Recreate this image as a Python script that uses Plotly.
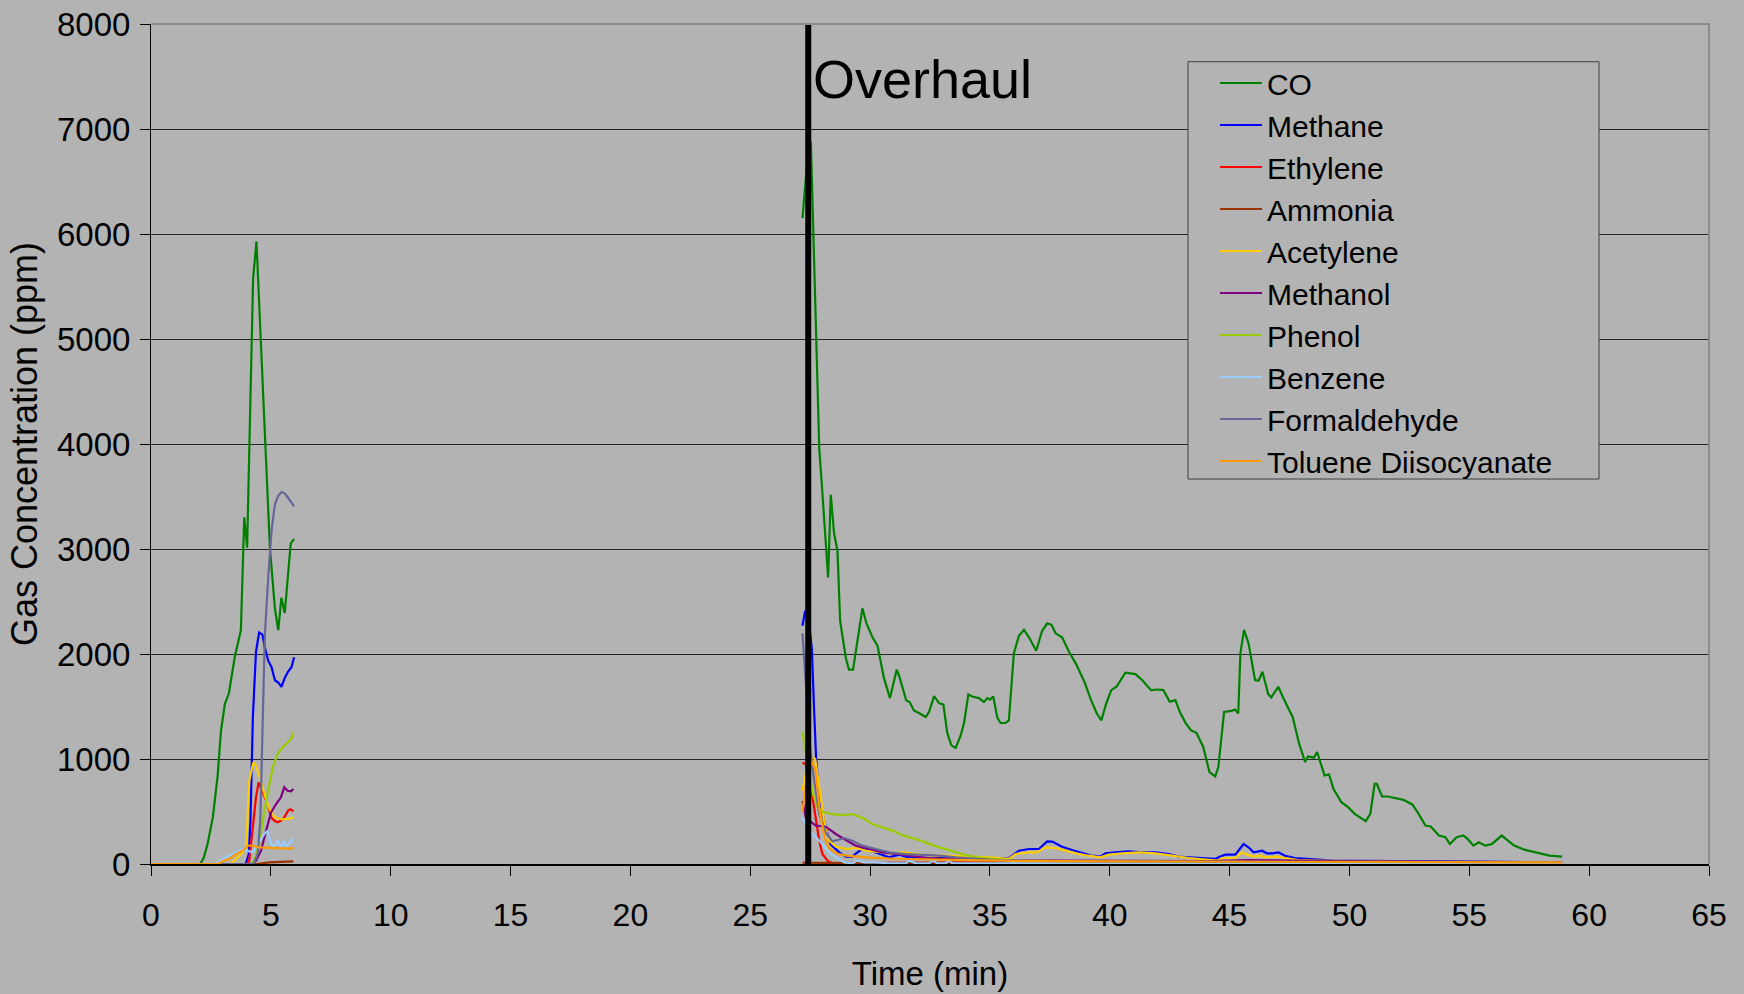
import plotly.graph_objects as go

# ---- Gas concentration readings (time in min, concentration in ppm) ----
# Each gas has an initial burn segment and a segment recorded after overhaul.

co_burn = [(0, 0), (2.05, 0), (2.2, 60), (2.36, 190), (2.58, 444), (2.78, 840), (2.92, 1269),
           (3.08, 1523), (3.25, 1626), (3.5, 1978), (3.75, 2226), (3.89, 3302), (4.01, 3012),
           (4.26, 5577), (4.4, 5929), (4.57, 5039), (4.79, 4005), (4.96, 3012), (5.17, 2433),
           (5.31, 2226), (5.44, 2536), (5.58, 2391), (5.83, 3053), (5.97, 3095)]
co_overhaul = [(27.18, 6151), (27.33, 6600), (27.45, 6880), (27.53, 6872), (27.6, 6326), (27.74, 4998),
               (27.88, 3953), (27.97, 3669), (28.11, 3147), (28.25, 2729), (28.36, 3517), (28.5, 3147),
               (28.64, 2981), (28.75, 2316), (28.99, 1960), (29.12, 1851), (29.29, 1851), (29.68, 2435),
               (29.85, 2292), (30.1, 2159), (30.31, 2079), (30.58, 1770), (30.83, 1580), (31.11, 1851),
               (31.21, 1794), (31.51, 1557), (31.65, 1542), (31.83, 1462), (32.04, 1438), (32.32, 1400),
               (32.46, 1448), (32.67, 1599), (32.88, 1533), (33.06, 1519), (33.22, 1248), (33.39, 1130),
               (33.57, 1106), (33.78, 1224), (33.92, 1343), (34.1, 1614), (34.26, 1595), (34.54, 1580),
               (34.75, 1542), (34.89, 1580), (35.0, 1566), (35.14, 1595), (35.31, 1391), (35.45, 1343),
               (35.65, 1343), (35.79, 1367), (36.0, 2008), (36.21, 2174), (36.42, 2231), (36.63, 2159),
               (36.93, 2031), (37.18, 2221), (37.39, 2292), (37.57, 2278), (37.74, 2197), (38.01, 2159),
               (38.3, 2022), (38.58, 1911), (38.94, 1736), (39.22, 1561), (39.46, 1433), (39.65, 1369),
               (39.83, 1513), (40.06, 1656), (40.28, 1688), (40.65, 1822), (41.07, 1809), (41.35, 1752),
               (41.72, 1656), (42.0, 1662), (42.24, 1656), (42.5, 1545), (42.74, 1561), (42.92, 1449),
               (43.16, 1344), (43.38, 1274), (43.62, 1248), (43.9, 1115), (44.16, 876), (44.4, 834),
               (44.53, 924), (44.77, 1449), (45.08, 1459), (45.23, 1471), (45.36, 1433), (45.45, 2006),
               (45.6, 2229), (45.79, 2102), (46.06, 1752), (46.21, 1745), (46.37, 1831), (46.61, 1618),
               (46.74, 1586), (47.03, 1688), (47.25, 1576), (47.63, 1401), (47.9, 1146), (48.15, 971),
               (48.27, 1025), (48.52, 1013), (48.65, 1067), (48.96, 844), (49.15, 853), (49.33, 717),
               (49.66, 589), (49.94, 541), (50.22, 478), (50.49, 439), (50.68, 408), (50.87, 478),
               (51.05, 764), (51.14, 764), (51.36, 643), (51.6, 643), (51.88, 627), (52.25, 611),
               (52.62, 567), (52.84, 494), (53.17, 366), (53.39, 357), (53.73, 271), (54.0, 255),
               (54.19, 191), (54.47, 255), (54.75, 271), (54.93, 239), (55.17, 175), (55.39, 207),
               (55.67, 175), (55.95, 191), (56.35, 271), (56.59, 223), (56.87, 175), (57.33, 134),
               (57.79, 111), (58.35, 80), (58.87, 70)]

methane_burn = [(0, 0), (3.95, 0), (4.08, 95), (4.15, 412), (4.25, 1400), (4.38, 2020), (4.51, 2205),
                (4.65, 2185), (4.75, 2060), (4.89, 1936), (5.03, 1874), (5.17, 1750), (5.31, 1729),
                (5.44, 1688), (5.58, 1771), (5.72, 1833), (5.86, 1874), (5.97, 1969)]
methane_overhaul = [(27.18, 2269), (27.29, 2411), (27.45, 2300), (27.57, 2055), (27.67, 1438), (27.75, 1000),
                    (27.88, 635), (28.08, 412), (28.35, 190), (28.71, 111), (28.99, 70), (29.26, 70),
                    (29.47, 111), (29.68, 143), (30.1, 121), (30.38, 95), (30.79, 63), (31.21, 89),
                    (31.63, 63), (32.18, 48), (32.88, 57), (33.57, 54), (34.4, 48), (35.24, 51),
                    (35.79, 57), (36.21, 127), (36.63, 143), (37.04, 143), (37.39, 216), (37.6, 213),
                    (38.01, 165), (38.43, 133), (38.85, 102), (39.26, 79), (39.61, 70), (39.82, 102),
                    (40.24, 111), (40.79, 121), (41.35, 111), (41.9, 111), (42.46, 95), (42.88, 70),
                    (43.29, 63), (43.71, 57), (44.4, 48), (44.61, 71), (44.82, 89), (45.24, 89),
                    (45.45, 159), (45.58, 190), (45.79, 159), (46.0, 111), (46.21, 121), (46.35, 127),
                    (46.56, 102), (46.76, 102), (47.04, 111), (47.31, 79), (47.73, 57), (48.15, 48),
                    (48.7, 41), (49.26, 32), (50.4, 30), (52.25, 25), (54.1, 18), (55.95, 16), (58.87, 15)]

ethylene_burn = [(0, 0), (4.0, 0), (4.1, 32), (4.24, 317), (4.38, 635), (4.49, 777), (4.66, 682),
                 (4.86, 571), (5.01, 444), (5.15, 412), (5.28, 397), (5.42, 412), (5.56, 444),
                 (5.74, 514), (5.84, 520), (5.94, 501)]
ethylene_overhaul = [(27.18, 958), (27.3, 960), (27.45, 850), (27.6, 635), (27.74, 412), (27.88, 222),
                     (28.01, 95), (28.22, 32), (28.43, 8), (30.0, 10), (33.0, 12), (36.0, 15), (37.6, 30),
                     (38.5, 25), (40.0, 18), (45.0, 20), (46.0, 30), (48.0, 20), (52.0, 15), (58.87, 10)]

ammonia_burn = [(0, 0), (4.4, 0), (4.94, 15), (5.49, 22), (5.94, 25)]
ammonia_overhaul = [(27.18, 12), (28.0, 10), (30.0, 8), (33.0, 10), (36.0, 8), (40.0, 10), (45.0, 12),
                    (50.0, 10), (55.0, 8), (58.87, 8)]

acetylene_burn = [(0, 0), (3.3, 0), (3.48, 32), (3.76, 95), (3.97, 159), (4.1, 793), (4.27, 968),
                  (4.38, 936), (4.52, 841), (4.73, 666), (4.94, 523), (5.15, 444), (5.42, 428),
                  (5.7, 428), (5.94, 444)]
acetylene_overhaul = [(27.18, 698), (27.35, 900), (27.6, 1011), (27.71, 1000), (27.88, 730), (28.08, 412),
                      (28.29, 222), (28.57, 165), (28.99, 143), (29.4, 152), (29.82, 127), (30.38, 111),
                      (30.93, 102), (31.35, 111), (31.9, 95), (32.46, 82), (33.15, 79), (34.13, 70),
                      (34.96, 63), (35.79, 48), (36.07, 95), (36.63, 111), (36.97, 111), (37.32, 159),
                      (37.74, 152), (38.15, 127), (38.57, 102), (39.13, 79), (39.61, 63), (39.96, 89),
                      (40.51, 102), (41.21, 111), (41.9, 102), (42.6, 79), (43.29, 57), (44.13, 40),
                      (44.54, 32), (44.68, 57), (45.24, 57), (45.51, 111), (45.72, 89), (46.0, 70),
                      (46.28, 79), (46.49, 63), (46.97, 70), (47.31, 57), (47.87, 38), (48.7, 32),
                      (50.65, 25), (54.0, 15), (58.87, 10)]

methanol_burn = [(0, 0), (4.17, 0), (4.38, 32), (4.59, 127), (4.8, 317), (5.01, 492), (5.22, 571),
                 (5.42, 635), (5.56, 730), (5.7, 698), (5.84, 692), (5.94, 714)]
methanol_overhaul = [(27.18, 600), (27.32, 441), (27.46, 412), (27.74, 365), (28.15, 355), (28.57, 286),
                     (28.99, 228), (29.4, 175), (29.96, 143), (30.51, 111), (31.07, 95), (31.63, 79),
                     (32.46, 57), (33.29, 48), (34.4, 38), (35.65, 32), (37.74, 32), (40.51, 32),
                     (44.13, 28), (45.79, 38), (48.0, 30), (52.0, 22), (58.87, 18)]

phenol_burn = [(0, 0), (4.17, 0), (4.31, 32), (4.52, 190), (4.73, 508), (4.91, 730), (5.08, 920),
               (5.28, 1047), (5.49, 1111), (5.7, 1158), (5.84, 1190), (5.94, 1253)]
phenol_overhaul = [(27.18, 1260), (27.29, 1106), (27.45, 850), (27.6, 679), (27.81, 536), (28.01, 498),
                   (28.43, 475), (28.85, 465), (29.26, 475), (29.68, 441), (30.1, 380), (30.51, 346),
                   (30.93, 318), (31.35, 275), (31.76, 247), (32.18, 218), (32.6, 180), (33.01, 152),
                   (33.43, 123), (33.99, 85), (34.54, 62), (35.24, 52), (35.79, 38), (36.07, 5),
                   (40.0, 3), (50.0, 3), (58.87, 3)]

benzene_burn = [(0, 0), (2.7, 0), (2.78, 15), (3.13, 63), (3.55, 111), (3.83, 143), (4.03, 127),
                (4.24, 111), (4.45, 190), (4.73, 286), (4.86, 317), (5.01, 190), (5.15, 159),
                (5.28, 222), (5.42, 159), (5.56, 222), (5.63, 159), (5.84, 222), (5.94, 238)]
benzene_overhaul = [(27.18, 444), (27.46, 317), (27.74, 254), (28.01, 190), (28.29, 111), (28.57, 63),
                    (28.92, 16), (29.26, 6), (29.47, 32), (29.75, 16), (30.24, 16), (30.79, 6),
                    (31.49, 6), (31.63, 32), (31.9, 6), (32.46, 6), (32.62, 32), (32.81, 6),
                    (33.15, 6), (33.29, 32), (33.43, 6), (40.0, 8), (50.0, 8), (58.87, 8)]

formaldehyde_burn = [(0, 0), (4.25, 0), (4.31, 15), (4.45, 95), (4.56, 412), (4.66, 1400), (4.75, 2185),
                     (4.89, 2722), (5.03, 3178), (5.17, 3426), (5.31, 3508), (5.44, 3542), (5.58, 3529),
                     (5.72, 3488), (5.86, 3446), (5.97, 3405)]
formaldehyde_overhaul = [(27.18, 2197), (27.35, 1600), (27.5, 1100), (27.67, 793), (27.88, 476),
                         (28.15, 301), (28.43, 216), (28.64, 228), (28.92, 247), (29.26, 222),
                         (29.68, 175), (30.24, 143), (30.79, 111), (31.49, 95), (32.18, 89), (32.88, 79),
                         (33.57, 63), (34.4, 48), (35.24, 38), (36.35, 32), (39.13, 25), (45.0, 22),
                         (52.0, 20), (58.87, 18)]

tdi_burn = [(0, 0), (2.78, 0), (3.06, 32), (3.27, 47), (3.55, 95), (3.83, 127), (4.03, 175),
            (4.24, 175), (4.52, 159), (4.94, 152), (5.49, 149), (5.94, 149)]
tdi_overhaul = [(27.18, 500), (27.35, 800), (27.55, 980), (27.72, 900), (27.9, 500), (28.1, 250),
                (28.3, 150), (28.6, 100), (29.0, 80), (30.0, 60), (31.0, 50), (33.0, 40), (36.0, 30),
                (40.0, 25), (50.0, 20), (58.87, 15)]

gas_names = ["CO", "Methane", "Ethylene", "Ammonia", "Acetylene", "Methanol", "Phenol",
             "Benzene", "Formaldehyde", "Toluene Diisocyanate"]
gas_colors = ["#008000", "#0000FF", "#FF0000", "#993300", "#FFCC00", "#800080", "#99CC00",
              "#99CCFF", "#666699", "#FF9900"]
gas_segments = [
    (co_burn, co_overhaul),
    (methane_burn, methane_overhaul),
    (ethylene_burn, ethylene_overhaul),
    (ammonia_burn, ammonia_overhaul),
    (acetylene_burn, acetylene_overhaul),
    (methanol_burn, methanol_overhaul),
    (phenol_burn, phenol_overhaul),
    (benzene_burn, benzene_overhaul),
    (formaldehyde_burn, formaldehyde_overhaul),
    (tdi_burn, tdi_overhaul),
]

overhaul_start = 27.42
x_ticks = list(range(0, 70, 5))
y_ticks = list(range(0, 9000, 1000))

BG = "#B3B3B3"
FONT = "Liberation Sans, Arial, sans-serif"

fig = go.Figure()
for name, color, (burn, over) in zip(gas_names, gas_colors, gas_segments):
    xs = [p[0] for p in burn] + [None] + [p[0] for p in over]
    ys = [p[1] for p in burn] + [None] + [p[1] for p in over]
    fig.add_trace(go.Scatter(x=xs, y=ys, mode="lines", name=name,
                             line=dict(color=color, width=2.2), connectgaps=False))

# overhaul marker line
fig.add_shape(type="line", xref="x", yref="y", x0=overhaul_start, x1=overhaul_start,
              y0=0, y1=8000, line=dict(color="black", width=6), layer="above")
# plot-area frame on top and right
fig.add_shape(type="path", xref="paper", yref="paper",
              path="M 0,1 L 1,1 L 1,0", line=dict(color="#8C8C8C", width=2), layer="above")
# legend frame (filled so gridlines stop at the box)
fig.add_shape(type="rect", xref="paper", yref="paper",
              x0=0.6656, x1=0.9294, y0=0.4583, y1=0.9551,
              fillcolor=BG, line=dict(color="#404040", width=1), layer="above")

fig.add_annotation(x=overhaul_start, y=8000, xref="x", yref="y", text="Overhaul",
                   showarrow=False, xanchor="left", yanchor="top", xshift=3, yshift=-23,
                   font=dict(family=FONT, size=54, color="black"))

fig.update_layout(
    width=1744, height=994,
    paper_bgcolor=BG, plot_bgcolor=BG,
    margin=dict(l=151, r=35, t=24, b=130, pad=0),
    font=dict(family=FONT, color="black"),
    showlegend=True,
    legend=dict(x=0.6829, y=0.9607, xanchor="left", yanchor="top",
                bgcolor="rgba(0,0,0,0)", borderwidth=0,
                font=dict(family=FONT, size=30, color="black"), itemwidth=42,
                traceorder="normal"),
    xaxis=dict(range=[0, 65], tickvals=x_ticks, ticktext=[str(v) for v in x_ticks],
               showgrid=False, zeroline=False, showline=True, linecolor="black", linewidth=2,
               ticks="outside", ticklen=10, tickcolor="black", tickwidth=1, automargin=False,
               tickfont=dict(family=FONT, size=32, color="black"), ticklabelstandoff=12,
               title=dict(text="Time (min)", font=dict(family=FONT, size=33, color="black"),
                          standoff=29)),
    yaxis=dict(range=[0, 8000], tickvals=y_ticks, ticktext=[str(v) for v in y_ticks],
               showgrid=True, gridcolor="#262626", gridwidth=1, zeroline=False,
               showline=True, linecolor="black", linewidth=1, automargin=False,
               ticks="outside", ticklen=10, tickcolor="black", tickwidth=1,
               tickfont=dict(family=FONT, size=33, color="black"), ticklabelstandoff=3,
               title=dict(text="Gas Concentration (ppm)",
                          font=dict(family=FONT, size=36, color="black"), standoff=8)),
)

fig.write_html("out.html")
